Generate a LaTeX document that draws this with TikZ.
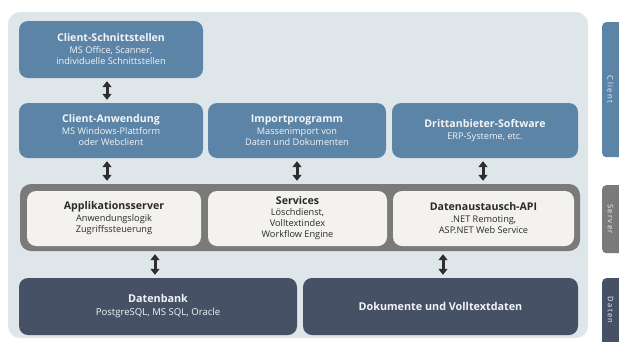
\documentclass[tikz,border=0pt]{standalone}
\usepackage{fontspec}
\setmainfont{Open Sans}
\usetikzlibrary{arrows.meta}
\definecolor{panel}{HTML}{DFE6EA}
\definecolor{cblue}{HTML}{5B84A6}
\definecolor{sgray}{HTML}{7A7A7A}
\definecolor{ddark}{HTML}{465166}
\definecolor{light}{HTML}{F3F2EE}
\definecolor{arr}{HTML}{2E2E2E}
\definecolor{ctext}{HTML}{F2F5F8}
\definecolor{dtext}{HTML}{2A2A2A}
\newcommand{\ttlA}[1]{{\bfseries\fontsize{10.6}{12}\selectfont #1}}
\newcommand{\ttlB}[1]{{\bfseries\fontsize{10.8}{14}\selectfont #1}}
\begin{document}
\begin{tikzpicture}[x=1pt,y=-1pt,
  box/.style={rounded corners=9pt, inner sep=0pt, align=center, font=\fontsize{9.2}{11.5}\selectfont},
  cbox/.style={box, fill=cblue, text=ctext},
  lbox/.style={box, fill=light, text=dtext},
  dbox/.style={box, fill=ddark, text=ctext, font=\fontsize{9.6}{13}\selectfont},
  frame/.style={rounded corners=11pt, fill=sgray, inner sep=0pt},
  side/.style={rounded corners=4pt, inner sep=0pt, text=ctext, font=\fontsize{7.6}{9}\selectfont\addfontfeatures{LetterSpace=18}},
  dbl/.style={draw=arr, line width=3pt, {Triangle[length=6pt,width=9pt]}-{Triangle[length=6pt,width=9pt]}}
]
\useasboundingbox (0,0) rectangle (619,341);
\fill[panel, rounded corners=12pt] (8,12) rectangle (588,338);

\node[cbox, minimum width=184, minimum height=57] (cs) at (111,49.5)
  {\ttlA{Client-Schnittstellen}\\MS Office, Scanner,\\individuelle Schnittstellen};
\node[cbox, minimum width=184, minimum height=55] (ca) at (111,130.5)
  {\ttlA{Client-Anwendung}\\MS Windows-Plattform\\oder Webclient};
\node[cbox, minimum width=178, minimum height=55] (ip) at (297,130.5)
  {\ttlA{Importprogramm}\\Massenimport von\\Daten und Dokumenten};
\node[cbox, minimum width=186, minimum height=55] (dt) at (485,130.5)
  {\ttlA{Drittanbieter-Software}\\ERP-Systeme, etc.};

\node[frame, minimum width=560, minimum height=67] (srv) at (300,217.5) {};
\node[lbox, minimum width=174, minimum height=55] (as) at (114,218.5)
  {\ttlA{Applikationsserver}\\Anwendungslogik\\Zugriffssteuerung};
\node[lbox, minimum width=179, minimum height=55, font=\fontsize{9.2}{11}\selectfont] (sv) at (297.5,218.5)
  {\ttlA{Services}\\Löschdienst,\\Volltextindex\\Workflow Engine};
\node[lbox, minimum width=181, minimum height=55] (da) at (483.5,218.5)
  {\ttlA{Datenaustausch-API}\\.NET Remoting,\\ASP.NET Web Service};

\node[dbox, minimum width=278, minimum height=57] (db) at (158,306.5)
  {\ttlB{Datenbank}\\PostgreSQL, MS SQL, Oracle};
\node[dbox, minimum width=275, minimum height=57] (dk) at (440.5,306.5)
  {\ttlB{Dokumente und Volltextdaten}};

\begin{scope}
\clip (0,0) rectangle (619,341);
\node[side, fill=cblue, minimum width=24, minimum height=135, anchor=north west] (sc) at (602,22) {};
\node[side, fill=sgray, minimum width=24, minimum height=68, anchor=north west] (ss) at (602,185) {};
\node[side, fill=ddark, minimum width=24, minimum height=68, anchor=north west] (sd) at (602,278) {};
\end{scope}
\node[side, rotate=-90] (lc) at (610.5,89.5) {Client};
\node[side, rotate=-90] (ls) at (610.5,219) {Server};
\node[side, rotate=-90] (ld) at (610.5,310) {Daten};

\draw[dbl, shorten <=3pt, shorten >=3pt] ([xshift=-4pt]cs.south) -- ([xshift=-4pt]ca.north);
\draw[dbl, shorten <=3pt, shorten >=3pt] ([xshift=-4pt]ca.south) -- ([xshift=-4pt]ca.south |- srv.north);
\draw[dbl, shorten <=3pt, shorten >=3pt] (ip.south) -- (ip.south |- srv.north);
\draw[dbl, shorten <=3pt, shorten >=3pt] ([xshift=-2pt]dt.south) -- ([xshift=-2pt]dt.south |- srv.north);
\draw[dbl, shorten <=3pt, shorten >=3pt] ([xshift=-3pt]db.north |- srv.south) -- ([xshift=-3pt]db.north);
\draw[dbl, shorten <=3pt, shorten >=3pt] ([xshift=2.5pt]dk.north |- srv.south) -- ([xshift=2.5pt]dk.north);
\end{tikzpicture}
\end{document}
